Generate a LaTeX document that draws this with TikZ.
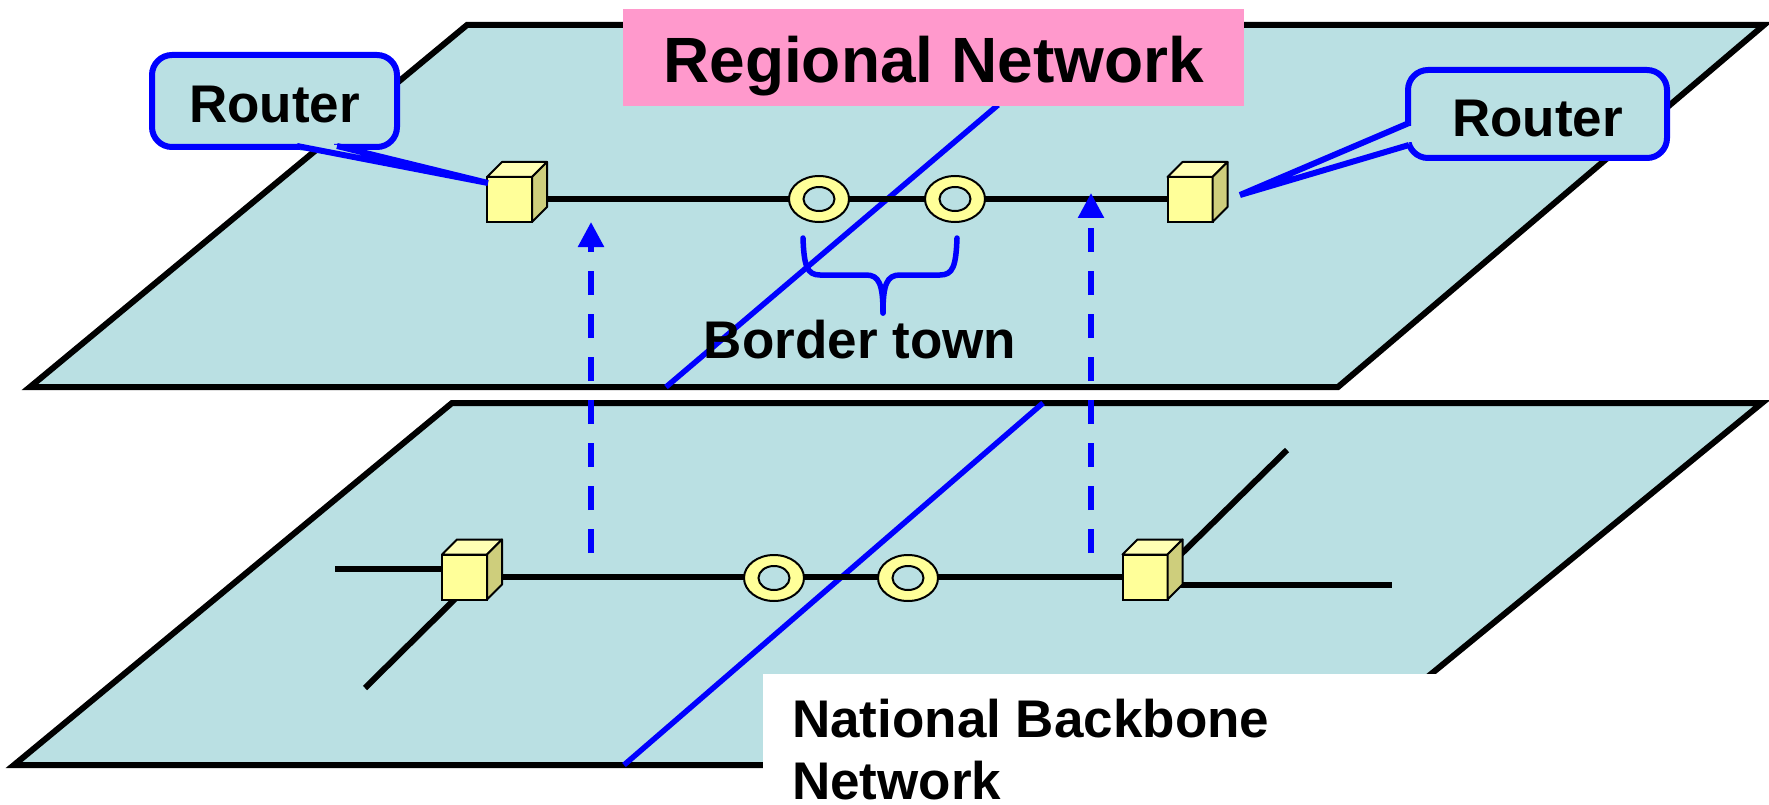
\documentclass[tikz,border=0pt]{standalone}
\usepackage{fontspec}
\setmainfont{Liberation Sans}
\usetikzlibrary{arrows.meta,shapes.geometric}
\definecolor{planecol}{RGB}{186,224,227}
\definecolor{pinkcol}{RGB}{255,153,204}
\definecolor{cubefrontcol}{RGB}{255,255,153}
\definecolor{cubetopcol}{RGB}{255,255,180}
\definecolor{cubesidecol}{RGB}{206,206,124}
\definecolor{netblue}{RGB}{0,0,255}
\newcommand{\routerbox}[2]{%
  \node[cubefront] (#1) at (#2) {};
  \filldraw[cubeedge, fill=cubetopcol] (#1.north west) -- ++(15,-15) -- ++(45,0) -- (#1.north east) -- cycle;
  \filldraw[cubeedge, fill=cubesidecol] (#1.north east) -- ++(15,-15) -- ++(0,45) -- (#1.south east) -- cycle;
}
\newcommand{\townring}[2]{%
  \node[ringout] (#1) at (#2) {};
  \node[ringin] (#1in) at (#2) {};
}
\begin{document}
\begin{tikzpicture}[x=1pt,y=-1pt,
  plane/.style={fill=planecol, draw=black, line width=6pt, line join=miter},
  link/.style={draw=black, line width=6pt},
  border/.style={draw=netblue, line width=5.5pt},
  cubefront/.style={draw=black, line width=2pt, fill=cubefrontcol, minimum size=45pt, inner sep=0pt, outer sep=0pt},
  cubeedge/.style={draw=black, line width=2pt, line join=round},
  ringout/.style={ellipse, draw=black, line width=2pt, fill=cubefrontcol, minimum width=60pt, minimum height=46pt, inner sep=0pt},
  ringin/.style={ellipse, draw=black, line width=2pt, fill=planecol, minimum width=31pt, minimum height=24pt, inner sep=0pt},
  callout/.style={draw=netblue, line width=6pt, fill=planecol, rounded corners=20pt, inner sep=0pt, font=\fontsize{53}{53}\selectfont\bfseries},
  tail/.style={draw=netblue, line width=6pt, line join=bevel},
  lift/.style={draw=netblue, line width=5.5pt, dash pattern=on 24pt off 19pt, -{Triangle[length=25pt,width=25pt]}},
  lbl/.style={font=\fontsize{53}{62}\selectfont\bfseries, inner sep=0pt},
]
\useasboundingbox (0,0) rectangle (1769,805);

% ---------- lower plane : National backbone ----------
\draw[plane] (452,403) -- (1762,403) -- (1320,765) -- (14,765) -- cycle;
\coordinate (lbS) at (624,765);
\coordinate (lbN) at (1043,403);
\draw[border] (lbS) -- (lbN);

\coordinate (LA) at (464.5,577);
\coordinate (LB) at (1145,577);
\coordinate (Lw) at (335,569);
\coordinate (LwIn) at (464,569);
\coordinate (LswIn) at (455,599);
\coordinate (Lsw) at (365,688);
\coordinate (LneIn) at (1170,565);
\coordinate (Lne) at (1287,450);
\coordinate (LeIn) at (1145,585);
\coordinate (Le) at (1392,585);
\draw[link] (Lw) -- (LwIn);
\draw[link] (LA) -- (LB);
\draw[link] (LswIn) -- (Lsw);
\draw[link] (LneIn) -- (Lne);
\draw[link] (LeIn) -- (Le);
\townring{lr1}{774,578}
\townring{lr2}{908,578}
\routerbox{lcubeA}{LA}
\routerbox{lcubeB}{LB}

% ---------- upper plane : Regional network ----------
\draw[plane] (467,25) -- (1764,25) -- (1338,387) -- (30,387) -- cycle;
\coordinate (ubS) at (666,387);
\coordinate (ubN) at (998,105);
\draw[border] (ubS) -- (ubN);
\coordinate (UA) at (509.5,199.5);
\coordinate (UB) at (1190,199.5);
\draw[link] (UA) -- (UB);
\townring{ur1}{819,199}
\townring{ur2}{955,199}
\routerbox{ucubeA}{UA}
\routerbox{ucubeB}{UB}

% brace
\draw[border, line cap=round, line join=round]
  (803,238) .. controls (804,266) and (807,275) .. (820,275) -- (866,275)
  .. controls (879,275) and (883,284) .. (883,313);
\draw[border, line cap=round, line join=round]
  (957,238) .. controls (956,266) and (953,275) .. (940,275) -- (900,275)
  .. controls (887,275) and (883,284) .. (883,313);
\node[lbl, anchor=base] (bt) at (860,358) {Border town};

% left callout
\node[callout, minimum width=245pt, text height=68pt, text depth=24pt] (routerL) at (274.5,101) {Router};
\coordinate (tipL) at (488,183);
\fill[planecol] (300,141) rectangle (334,151);
\fill[planecol] (297,145) -- (tipL) -- (337,145) -- cycle;
\draw[tail] (297,146) -- (tipL) -- (337,146);

% right callout
\node[callout, minimum width=259pt, text height=67pt, text depth=21pt] (routerR) at (1537.5,114) {Router};
\coordinate (tipR) at (1240,195);
\fill[planecol] (1403,126) rectangle (1414,142);
\fill[planecol] (1409,123) -- (tipR) -- (1409,145) -- cycle;
\draw[tail] (1409,123) -- (tipR) -- (1409,145);

% title
\node[fill=pinkcol, inner sep=0pt, minimum width=621pt, text height=74pt, text depth=23pt,
      font=\fontsize{64}{64}\selectfont\bfseries] (title) at (933.5,57.5) {Regional Network};

% bottom label
\fill[white] (763,674) rectangle (1436,805);
\node[lbl, anchor=north west, align=left] (nb) at (792,699) {National Backbone\\Network};

% dashed lift arrows
\coordinate (A1s) at (591,553);
\coordinate (A1e) at (591,222);
\coordinate (A2s) at (1091,553);
\coordinate (A2e) at (1091,193);
\draw[lift] (A1s) -- (A1e);
\draw[lift] (A2s) -- (A2e);
\end{tikzpicture}
\end{document}
